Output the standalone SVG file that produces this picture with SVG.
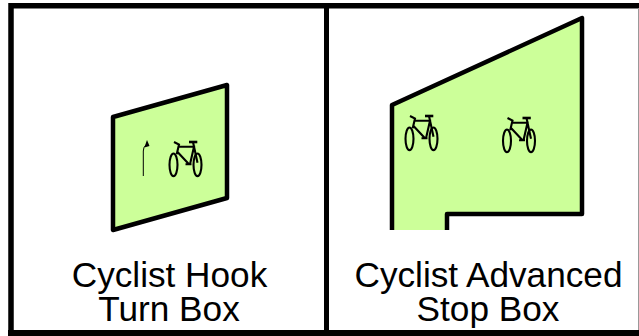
<svg xmlns="http://www.w3.org/2000/svg" width="639" height="336" viewBox="0 0 639 336">
<style>
.box{fill:#ccff99;stroke:#000;stroke-width:4.500;stroke-linejoin:round}
.edge{fill:none;stroke:#000;stroke-width:4.500;stroke-linejoin:round}
.bk{fill:none;stroke:#000;stroke-width:2.100}
.lbl{font-family:"Liberation Sans",Arial,sans-serif;font-size:35.200px;fill:#000;text-anchor:middle}
</style>
<defs>
<g id="bike">
<ellipse class="bk" cx="-12" cy="5.800" rx="4" ry="11.300"/>
<ellipse class="bk" cx="12" cy="5.800" rx="4" ry="11.300"/>
<path class="bk" d="M-11.500 -17 L-6.500 -14.500 L-8.800 -4.700 M-6.500 -12.300 L8.500 -12.300 L4.500 5.300 M-8.200 -7.300 L3.500 5.300 M0 5.300 L6 5.300 M7.500 -17 L12 3.700"/>
<path d="M3.500 -17 L11.800 -17" fill="none" stroke="#000" stroke-width="2.600"/>
</g>
</defs>
<rect id="page" x="0" y="0" width="639" height="336" fill="#fff"/>
<g id="frame">
<path d="M11 333 V5.700 H639" fill="none" stroke="#000" stroke-width="5.500"/>
<rect x="8" y="330" width="631" height="6"/>
<rect x="324" y="5" width="5" height="326"/>
<rect x="638" y="8" width="1" height="322" fill="#999"/>
</g>
<g id="hook-box">
<path class="box" d="M113 117 L227 85 L227 198 L113 230 Z"/>
<path d="M143.300 176 L143.300 151 Q143.300 147 146 145" fill="none" stroke="#000" stroke-width="1"/>
<path d="M147 140 L149.500 146 L144.300 147.500 Z" fill="#000"/>
<use href="#bike" x="185.500" y="159"/>
<text class="lbl" x="169.500" y="287">Cyclist Hook</text>
<text class="lbl" x="169" y="320.500">Turn Box</text>
</g>
<g id="stop-box">
<path d="M392 105 L582 18 L582 214 L447 214 L447 230 L392 230 Z" fill="#ccff99"/>
<path class="edge" d="M392 230 L392 105 L582 18 L582 214 L447 214 L447 230"/>
<use href="#bike" x="421.500" y="133"/>
<use href="#bike" x="519" y="135"/>
<text class="lbl" x="488.500" y="287">Cyclist Advanced</text>
<text class="lbl" x="488" y="320.500">Stop Box</text>
</g>
</svg>
